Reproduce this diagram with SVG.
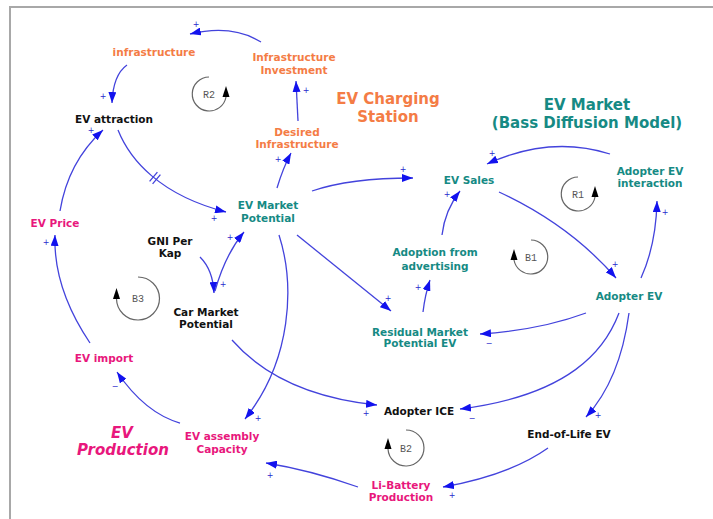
<svg xmlns="http://www.w3.org/2000/svg" width="713" height="519" viewBox="0 0 713 519">
<style>
text{font-family:"DejaVu Sans","Liberation Sans",sans-serif;font-weight:bold;text-anchor:middle}
.n{font-size:10.5px}
.k{fill:#111}
.o{fill:#f47c45}
.t{fill:#168a84}
.p{fill:#e8177c}
.big{font-size:15px}
.c{fill:none;stroke:#4343dc;stroke-width:1.3}
.s{font-family:"DejaVu Sans",sans-serif;font-weight:normal;font-size:8px;fill:#2a2acc}
.lp{fill:none;stroke:#666;stroke-width:1.2}
.lt{font-family:"Liberation Mono",monospace;font-weight:normal;font-size:10px;fill:#555}
</style>
<defs>
<marker id="ah" markerUnits="userSpaceOnUse" markerWidth="11" markerHeight="8" refX="11" refY="4" orient="auto">
<path d="M0,0 L11,4 L0,8 z" fill="#1212ee"/>
</marker>
</defs>
<rect width="713" height="519" fill="#fff"/>
<path d="M10,519 L10,7 L713,7" fill="none" stroke="#a8a8a8" stroke-width="2"/>

<g id="connectors">
<path class="c" marker-end="url(#ah)" d="M261,42 Q232,24 190,34"/>
<path class="c" marker-end="url(#ah)" d="M127,65 Q113,75 112,103"/>
<path class="c" marker-end="url(#ah)" d="M298,121 L296,81"/>
<path class="c" marker-end="url(#ah)" d="M277,188 Q283,168 291,153"/>
<path class="c" marker-end="url(#ah)" d="M118,130 C130,160 160,195 226,212"/>
<path class="c" d="M157.4,172.1 L149.6,181.3 M160.4,174.7 L152.6,183.9"/>
<path class="c" marker-end="url(#ah)" d="M60,211 Q68,162 103,130"/>
<path class="c" marker-end="url(#ah)" d="M90,343 Q53,288 55,235"/>
<path class="c" marker-end="url(#ah)" d="M180,423 Q145,413 117,372"/>
<path class="c" marker-end="url(#ah)" d="M200,257 Q213,270 214,293"/>
<path class="c" marker-end="url(#ah)" d="M215,291 Q225,255 244,232"/>
<path class="c" marker-end="url(#ah)" d="M312,191 Q350,178 413,178"/>
<path class="c" marker-end="url(#ah)" d="M297,235 L391,311"/>
<path class="c" marker-end="url(#ah)" d="M279,235 C295,285 292,360 245,419"/>
<path class="c" marker-end="url(#ah)" d="M232,340 Q280,395 377,405"/>
<path class="c" marker-end="url(#ah)" d="M442,235 Q445,210 460,191"/>
<path class="c" marker-end="url(#ah)" d="M423,312 Q425,295 430,280"/>
<path class="c" marker-end="url(#ah)" d="M610,154 Q550,135 487,164"/>
<path class="c" marker-end="url(#ah)" d="M499,192 Q570,225 616,278"/>
<path class="c" marker-end="url(#ah)" d="M641,278 Q656,245 657,201"/>
<path class="c" marker-end="url(#ah)" d="M586,313 Q540,330 480,334"/>
<path class="c" marker-end="url(#ah)" d="M619,313 C605,350 570,395 460,409"/>
<path class="c" marker-end="url(#ah)" d="M629,313 Q620,380 586,417"/>
<path class="c" marker-end="url(#ah)" d="M548,448 Q510,475 443,487"/>
<path class="c" marker-end="url(#ah)" d="M358,487 Q310,470 266,463"/>
<g>
<text class="s" x="196" y="27">+</text>
<text class="s" x="103" y="99">+</text>
<text class="s" x="91" y="133">+</text>
<text class="s" x="306" y="93">+</text>
<text class="s" x="278" y="162">+</text>
<text class="s" x="403" y="172">+</text>
<text class="s" x="214" y="221">+</text>
<text class="s" x="46" y="245">+</text>
<text class="s" x="230" y="240">+</text>
<text class="s" x="223" y="287">+</text>
<text class="s" x="388" y="301">+</text>
<text class="s" x="418" y="290">+</text>
<text class="s" x="447" y="197">+</text>
<text class="s" x="492" y="156">+</text>
<text class="s" x="615" y="267">+</text>
<text class="s" x="665" y="215">+</text>
<text class="s" x="489" y="346">−</text>
<text class="s" x="472" y="421">−</text>
<text class="s" x="598" y="418">+</text>
<text class="s" x="452" y="498">+</text>
<text class="s" x="270" y="478">+</text>
<text class="s" x="366" y="416">+</text>
<text class="s" x="258" y="421">+</text>
<text class="s" x="115" y="389">−</text>
</g>
</g>

<g id="loop-R2">
<path class="lp" d="M209,77 A17,17 0 1 0 226,97"/>
<path d="M222.5,97 L226,86 L229.5,97 z" fill="#000"/>
<text class="lt" x="209" y="97.5">R2</text>
</g>
<g id="loop-R1">
<path class="lp" d="M578,177 A17,17 0 1 0 595,197"/>
<path d="M591.5,197 L595,186 L598.5,197 z" fill="#000"/>
<text class="lt" x="578" y="197.5">R1</text>
</g>
<g id="loop-B1">
<path class="lp" d="M531,240 A17,17 0 1 1 514,260"/>
<path d="M510.5,260 L514,249 L517.5,260 z" fill="#000"/>
<text class="lt" x="531" y="260.5">B1</text>
</g>
<g id="loop-B2">
<path class="lp" d="M406,430 A18,18 0 1 1 388,449"/>
<path d="M384.5,449 L388,438 L391.5,449 z" fill="#000"/>
<text class="lt" x="406" y="451.5">B2</text>
</g>
<g id="loop-B3">
<path class="lp" d="M138,277 A21.5,21.5 0 1 1 116.5,299"/>
<path d="M113,299 L116.5,288 L120,299 z" fill="#000"/>
<text class="lt" x="138" y="301.5">B3</text>
</g>

<g id="title-charging"><text class="big o" x="388" y="104">EV Charging</text><text class="big o" x="388" y="122">Station</text></g>
<g id="title-market"><text class="big t" x="587" y="110">EV Market</text><text class="big t" x="587" y="128">(Bass Diffusion Model)</text></g>
<g id="title-production"><text class="big p" font-style="italic" x="122" y="438">EV</text><text class="big p" font-style="italic" x="123" y="455">Production</text></g>

<g id="infrastructure"><text class="n o" x="154" y="56">infrastructure</text></g>
<g id="infrastructure-investment"><text class="n o" x="294" y="61">Infrastructure</text><text class="n o" x="294" y="74">Investment</text></g>
<g id="desired-infrastructure"><text class="n o" x="297" y="136">Desired</text><text class="n o" x="297" y="148">Infrastructure</text></g>
<g id="ev-attraction"><text class="n k" x="114" y="123">EV attraction</text></g>
<g id="ev-market-potential"><text class="n t" x="268" y="209">EV Market</text><text class="n t" x="268" y="222">Potential</text></g>
<g id="ev-sales"><text class="n t" x="469" y="184">EV Sales</text></g>
<g id="adopter-ev-interaction"><text class="n t" x="650" y="175">Adopter EV</text><text class="n t" x="650" y="187">interaction</text></g>
<g id="gni-per-kap"><text class="n k" x="170" y="245">GNI Per</text><text class="n k" x="170" y="257">Kap</text></g>
<g id="car-market-potential"><text class="n k" x="206" y="316">Car Market</text><text class="n k" x="206" y="328">Potential</text></g>
<g id="ev-price"><text class="n p" x="55" y="227">EV Price</text></g>
<g id="ev-import"><text class="n p" x="104" y="362">EV import</text></g>
<g id="ev-assembly-capacity"><text class="n p" x="222" y="440">EV assembly</text><text class="n p" x="222" y="453">Capacity</text></g>
<g id="adopter-ice"><text class="n k" x="419" y="415">Adopter ICE</text></g>
<g id="li-battery-production"><text class="n p" x="401" y="489">Li-Battery</text><text class="n p" x="401" y="501">Production</text></g>
<g id="end-of-life-ev"><text class="n k" x="569" y="438">End-of-Life EV</text></g>
<g id="adopter-ev"><text class="n t" x="629" y="300">Adopter EV</text></g>
<g id="residual-market-potential-ev"><text class="n t" x="420" y="336">Residual Market</text><text class="n t" x="420" y="347">Potential EV</text></g>
<g id="adoption-from-advertising"><text class="n t" x="435" y="256">Adoption from</text><text class="n t" x="435" y="270">advertising</text></g>
</svg>
